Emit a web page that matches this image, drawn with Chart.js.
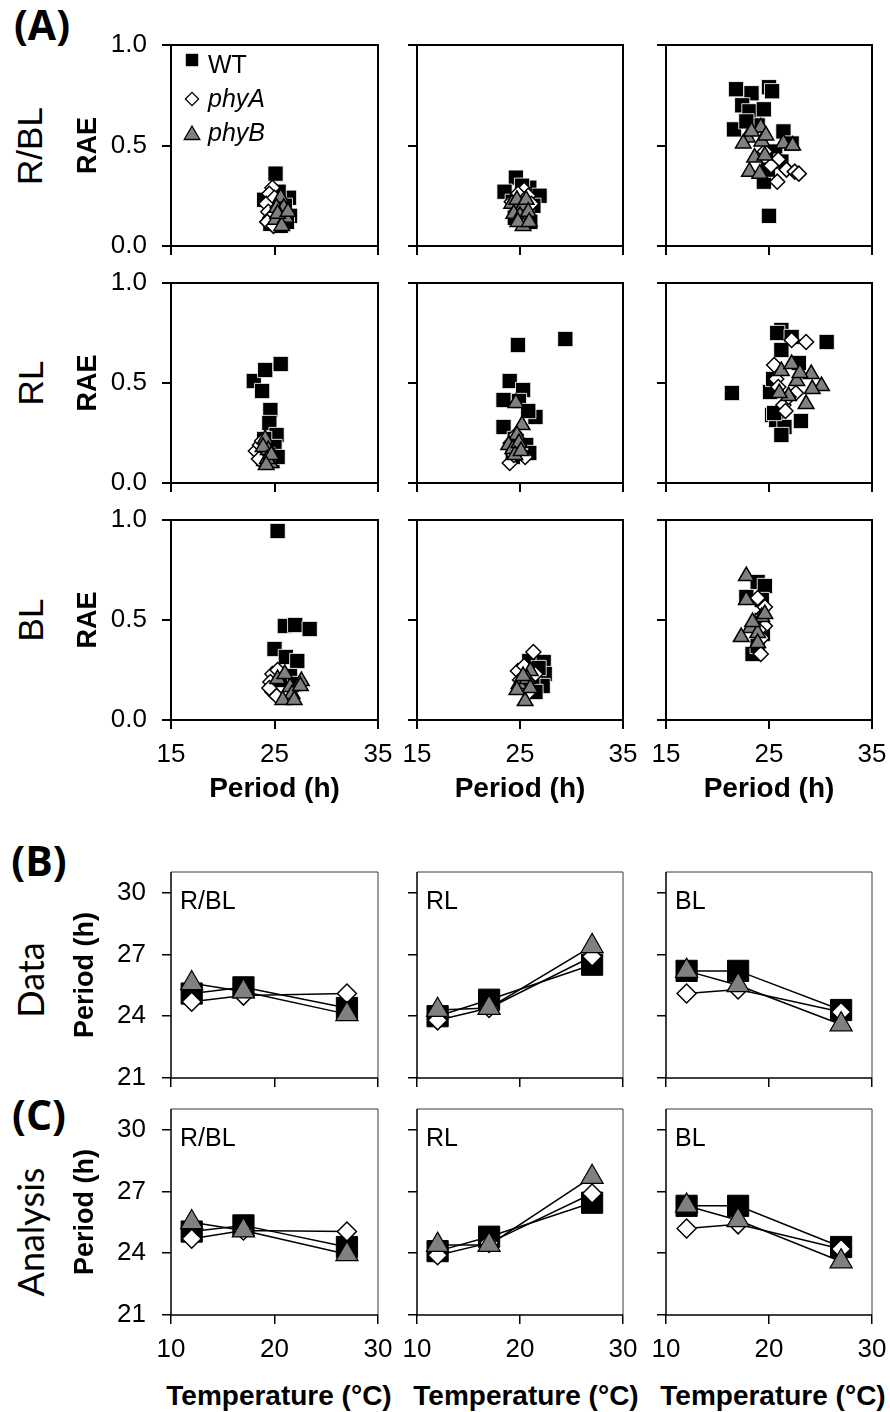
<!DOCTYPE html>
<html>
<head>
<meta charset="utf-8">
<script src="https://cdn.jsdelivr.net/npm/chart.js@4.4.0/dist/chart.umd.min.js"></script>
<style>
  html, body { margin: 0; padding: 0; background: #fff; }
  #fig { position: relative; width: 890px; height: 1412px; overflow: hidden; background: #fff; }
  .lbl { position: absolute; white-space: nowrap; line-height: 1; color: #000; transform: translate(-50%, -50%); }
  .rot { transform: translate(-50%, -50%) rotate(-90deg); }
  .letter { font-family: 'Open Sans', Lato, sans-serif; font-weight: 700; font-size: 41px; }
  .rowname { font-family: 'Liberation Sans', Arial, sans-serif; font-size: 35px; }
  .block { font-family: Lato, 'Open Sans', sans-serif; font-size: 36px; }
  .xtitle { font-family: 'Liberation Sans', Arial, sans-serif; font-size: 28px; font-weight: 700; }
</style>
</head>
<body>
<div id="fig">
  <div class="lbl letter" style="left:42px;top:24px">(A)</div>
  <div class="lbl letter" style="left:39px;top:860px">(B)</div>
  <div class="lbl letter" style="left:39px;top:1114px">(C)</div>

  <div class="lbl rot rowname" style="left:29px;top:146px">R/BL</div>
  <div class="lbl rot rowname" style="left:30px;top:383px">RL</div>
  <div class="lbl rot rowname" style="left:30px;top:620px">BL</div>

  <div class="lbl rot block" style="left:30px;top:980px">Data</div>
  <div class="lbl rot block" style="left:30px;top:1232px">Analysis</div>

  <div class="lbl xtitle" style="left:279px;top:1396px">Temperature (°C)</div>
  <div class="lbl xtitle" style="left:526px;top:1396px">Temperature (°C)</div>
  <div class="lbl xtitle" style="left:773px;top:1396px">Temperature (°C)</div>
</div>

<script>
// ---------- series and tick labels ----------
const seriesNames = ['WT', 'phyA', 'phyB'];
const lightNames = ['R/BL', 'RL', 'BL'];

const raeTicks = [0, 0.5, 1.0];
const periodTicks = [15, 25, 35];
const tempTicks = [10, 20, 30];
const periodTicksBC = [21, 24, 27, 30];

// (A) period vs RAE, [period (h), RAE] per seedling
// R/BL row
const rblWT1 = [[25.1,0.36],[24.0,0.23],[26.4,0.24],[26.0,0.20],[25.4,0.27],[24.7,0.17],[25.9,0.14],[26.5,0.15],[24.6,0.11],[25.6,0.10],[26.2,0.12],[24.9,0.22]];
const rblA1  = [[24.8,0.29],[24.5,0.26],[24.2,0.21],[24.4,0.17],[24.6,0.14],[24.3,0.12],[25.0,0.24],[25.3,0.19],[24.9,0.10]];
const rblB1  = [[25.6,0.24],[25.2,0.19],[25.9,0.19],[25.5,0.15],[25.1,0.13],[26.1,0.14],[25.7,0.10],[25.3,0.16],[26.3,0.17]];

const rblWT2 = [[24.6,0.34],[23.5,0.27],[25.9,0.29],[26.9,0.25],[25.2,0.30],[24.3,0.22],[26.3,0.20],[25.6,0.16],[24.5,0.14],[26.0,0.12],[25.0,0.18]];
const rblA2  = [[25.4,0.28],[24.8,0.26],[24.2,0.22],[25.8,0.25],[25.1,0.20],[24.6,0.17],[25.5,0.15],[26.1,0.21]];
const rblB2  = [[24.2,0.21],[24.7,0.23],[25.3,0.20],[25.6,0.23],[24.4,0.16],[25.0,0.15],[25.8,0.17],[25.3,0.10],[24.8,0.12],[25.9,0.12]];

const rblWT3 = [[21.8,0.78],[23.3,0.76],[25.0,0.79],[25.3,0.77],[22.4,0.70],[23.1,0.67],[24.5,0.68],[21.6,0.58],[26.4,0.57],[27.2,0.51],[24.5,0.32],[25.0,0.15],[23.9,0.60],[24.9,0.38],[22.8,0.62],[25.6,0.47],[26.2,0.42]];
const rblA3  = [[25.9,0.43],[26.7,0.38],[25.8,0.32],[27.5,0.37],[27.9,0.36],[25.2,0.40],[24.6,0.47]];
const rblB3  = [[24.2,0.59],[22.9,0.54],[22.5,0.51],[24.3,0.52],[26.4,0.51],[27.3,0.50],[23.6,0.44],[23.1,0.37],[24.1,0.36],[24.6,0.45],[23.3,0.57],[24.7,0.55]];

// RL row
const rlWT1 = [[23.0,0.51],[24.1,0.565],[25.6,0.595],[23.8,0.46],[24.6,0.365],[24.5,0.30],[25.2,0.24],[24.0,0.22],[25.0,0.18],[24.3,0.14],[24.8,0.11],[23.9,0.12],[25.3,0.13]];
const rlA1  = [[23.2,0.16],[23.6,0.19],[24.0,0.13],[23.8,0.21],[24.3,0.17],[24.5,0.11],[23.5,0.12]];
const rlB1  = [[24.1,0.22],[24.4,0.165],[24.6,0.10],[23.9,0.18],[24.3,0.12],[24.7,0.14],[24.2,0.09]];

const rlWT2 = [[24.8,0.69],[29.4,0.72],[24.0,0.51],[25.3,0.465],[23.4,0.415],[24.9,0.41],[26.5,0.33],[25.8,0.36],[23.4,0.28],[25.6,0.19],[24.5,0.22],[25.9,0.15],[24.9,0.15],[24.3,0.13]];
const rlA2  = [[24.0,0.10],[24.4,0.14],[24.8,0.19],[25.2,0.17],[24.1,0.20],[25.5,0.13],[24.6,0.24]];
const rlB2  = [[24.6,0.40],[25.2,0.29],[24.7,0.24],[23.9,0.19],[24.3,0.17],[24.9,0.20],[24.5,0.14],[25.1,0.16]];

const rlWT3 = [[21.4,0.45],[30.6,0.705],[26.2,0.765],[25.8,0.75],[27.2,0.73],[26.2,0.665],[27.9,0.60],[25.1,0.455],[25.3,0.34],[25.7,0.315],[28.1,0.31],[26.5,0.28],[26.2,0.24],[25.5,0.35],[25.4,0.52]];
const rlA3  = [[27.2,0.715],[28.6,0.705],[25.5,0.59],[25.7,0.52],[26.4,0.39],[27.6,0.45],[26.9,0.43],[25.9,0.48],[26.6,0.36]];
const rlB3  = [[26.2,0.56],[27.2,0.595],[29.1,0.545],[30.1,0.485],[29.2,0.47],[26.9,0.435],[28.6,0.395],[26.0,0.45],[27.7,0.51],[28.0,0.55]];

// BL row
const blWT1 = [[25.3,0.945],[26.0,0.47],[27.0,0.475],[28.4,0.455],[25.0,0.355],[26.1,0.315],[27.2,0.295],[26.5,0.22],[25.6,0.20],[27.0,0.18]];
const blA1  = [[24.8,0.23],[24.6,0.19],[24.8,0.14],[25.2,0.12],[25.3,0.25],[24.5,0.16]];
const blB1  = [[25.3,0.205],[26.5,0.165],[27.6,0.195],[26.7,0.13],[25.8,0.10],[26.9,0.10],[27.5,0.17],[26.0,0.23]];

const blWT2 = [[25.9,0.295],[27.3,0.29],[27.4,0.23],[27.2,0.17],[26.2,0.18],[26.8,0.26],[26.5,0.14]];
const blA2  = [[26.3,0.34],[24.8,0.245],[25.0,0.20],[26.5,0.23],[25.9,0.14],[25.4,0.27]];
const blB2  = [[26.0,0.245],[24.9,0.18],[25.7,0.205],[25.5,0.095],[26.0,0.16],[25.3,0.22],[24.7,0.15]];

const blWT3 = [[23.9,0.69],[24.6,0.67],[22.8,0.615],[24.3,0.60],[23.4,0.33],[24.3,0.50],[24.4,0.43],[23.9,0.37]];
const blA3  = [[23.9,0.61],[24.6,0.565],[24.3,0.52],[24.6,0.47],[24.3,0.41],[24.2,0.33],[24.0,0.45]];
const blB3  = [[22.8,0.72],[22.8,0.60],[24.3,0.515],[23.2,0.46],[22.3,0.415],[23.9,0.435],[23.9,0.385],[24.6,0.53],[23.4,0.49]];

// (B) measured period (h) at each temperature
const temperatures = [12, 17, 27];
const dataRblWT = [25.1, 25.4, 24.4];
const dataRblA  = [24.7, 25.0, 25.1];
const dataRblB  = [25.6, 25.2, 24.1];
const dataRlWT  = [24.0, 24.8, 26.5];
const dataRlA   = [23.8, 24.4, 26.9];
const dataRlB   = [24.3, 24.4, 27.4];
const dataBlWT  = [26.2, 26.2, 24.3];
const dataBlA   = [25.1, 25.3, 24.2];
const dataBlB   = [26.2, 25.5, 23.6];

// (C) period (h) from the analysis
const fitRblWT = [25.05, 25.35, 24.3];
const fitRblA  = [24.7, 25.1, 25.05];
const fitRblB  = [25.5, 25.1, 23.95];
const fitRlWT  = [24.1, 24.8, 26.45];
const fitRlA   = [23.9, 24.5, 26.9];
const fitRlB   = [24.4, 24.4, 27.7];
const fitBlWT  = [26.3, 26.3, 24.3];
const fitBlA   = [25.2, 25.4, 24.2];
const fitBlB   = [26.3, 25.6, 23.6];

// ---------- layout ----------
const SANS = "'Liberation Sans', Arial, Helvetica, sans-serif";
const fig = document.getElementById('fig');
const colLefts = [171, 417, 666];
const colWidths = [207, 206, 206];
const rowTopsA = [45, 283, 520];
const rowHeightsA = [201, 200, 200];
// room around each plot area, large enough for the half-height of edge tick labels
const PAD_TOP = 36, PAD_RIGHT = 32, Y_AXIS_INNER = 32, X_AXIS_BARE = 36;

Chart.defaults.font.family = SANS;
Chart.defaults.color = '#000';

// box around each plot area
const framePlugin = {
  id: 'frame',
  beforeDatasetsDraw(chart, args, opts) {
    const { ctx, chartArea: { left, top, right, bottom } } = chart;
    ctx.save();
    if (opts.mode === 'box') {
      ctx.strokeStyle = '#000';
      ctx.lineWidth = 2;
      ctx.strokeRect(left, top, right - left, bottom - top);
    } else {
      ctx.strokeStyle = '#3a3a3a';
      ctx.lineWidth = 1;
      ctx.beginPath();
      ctx.moveTo(left, top); ctx.lineTo(right, top); ctx.lineTo(right, bottom);
      ctx.stroke();
      ctx.strokeStyle = '#000';
      ctx.lineWidth = 1.5;
      ctx.beginPath();
      ctx.moveTo(left, top); ctx.lineTo(left, bottom); ctx.lineTo(right, bottom);
      ctx.stroke();
    }
    ctx.restore();
  }
};

// light condition written in the top-left corner of panels B and C
const cornerLabelPlugin = {
  id: 'cornerLabel',
  afterDraw(chart, args, opts) {
    if (!opts.text) return;
    const { ctx, chartArea: a } = chart;
    ctx.save();
    ctx.font = `25px ${SANS}`;
    ctx.fillStyle = '#000';
    ctx.textAlign = 'left';
    ctx.textBaseline = 'alphabetic';
    ctx.fillText(opts.text, a.left + 9, a.top + 37);
    ctx.restore();
  }
};

function markerPath(ctx, style, x, y, r) {
  ctx.beginPath();
  if (style === 'rect') {
    const s = Math.SQRT1_2 * r;
    ctx.rect(x - s, y - s, 2 * s, 2 * s);
  } else if (style === 'rectRot') {
    ctx.moveTo(x - r, y); ctx.lineTo(x, y - r); ctx.lineTo(x + r, y); ctx.lineTo(x, y + r);
    ctx.closePath();
  } else {
    ctx.moveTo(x, y - r);
    ctx.lineTo(x + 0.866 * r, y + 0.5 * r);
    ctx.lineTo(x - 0.866 * r, y + 0.5 * r);
    ctx.closePath();
  }
}

// series key inside the first scatter panel
const keyPlugin = {
  id: 'seriesKey',
  afterDatasetsDraw(chart) {
    const { ctx, chartArea: a } = chart;
    const markY = [15, 54, 90];
    const textY = [21, 55, 89];
    const sizes = [8.8, 6.6, 9];
    ctx.save();
    chart.data.datasets.forEach((ds, i) => {
      markerPath(ctx, ds.pointStyle, a.left + 21, a.top + markY[i], sizes[i]);
      ctx.fillStyle = ds.pointBackgroundColor;
      ctx.fill();
      if (i > 0) {
        ctx.strokeStyle = '#000';
        ctx.lineWidth = 1.3;
        ctx.stroke();
      }
      ctx.fillStyle = '#000';
      ctx.font = `${i === 0 ? '' : 'italic '}25px ${SANS}`;
      ctx.textAlign = 'left';
      ctx.textBaseline = 'middle';
      ctx.fillText(ds.label, a.left + 37, a.top + textY[i]);
    });
    ctx.restore();
  }
};

function mountCanvas(left, top, width, height) {
  const wrap = document.createElement('div');
  wrap.style.cssText = `position:absolute;left:${left}px;top:${top}px;width:${width}px;height:${height}px;`;
  const cv = document.createElement('canvas');
  cv.width = width;
  cv.height = height;
  cv.style.cssText = `width:${width}px;height:${height}px;display:block;`;
  wrap.appendChild(cv);
  fig.appendChild(wrap);
  return cv;
}

function axis({ min, max, ticks, showLabels, fmt, padding, lineWidth, fit, title }) {
  return {
    type: 'linear',
    min, max,
    afterBuildTicks: s => { s.ticks = ticks.map(v => ({ value: v })); },
    ticks: {
      display: showLabels,
      font: { family: SANS, size: 26 },
      color: '#000',
      padding,
      autoSkip: false,
      maxRotation: 0,
      callback: fmt || (v => String(v))
    },
    grid: { display: true, drawOnChartArea: false, drawTicks: true, tickLength: 9, color: '#000', lineWidth },
    border: { display: false },
    title: title || { display: false },
    afterFit: fit
  };
}

const toXY = arr => arr.map(([x, y]) => ({ x, y }));
const onTemps = vals => temperatures.map((t, i) => ({ x: t, y: vals[i] }));

// ---------- (A) scatter panels ----------
function scatterPanel(row, col, [wt, pa, pb]) {
  const yw = col === 0 ? 131 : Y_AXIS_INNER, pt = PAD_TOP, pr = PAD_RIGHT;
  const xh = row === 2 ? 95 : X_AXIS_BARE;
  const w = colWidths[col], h = rowHeightsA[row];
  const cv = mountCanvas(colLefts[col] - yw, rowTopsA[row] - pt, yw + w + pr, pt + h + xh);
  const plugins = [framePlugin];
  if (row === 0 && col === 0) plugins.push(keyPlugin);
  return new Chart(cv, {
    type: 'scatter',
    data: {
      datasets: [
        { label: seriesNames[0], data: toXY(wt), order: 3, pointStyle: 'rect', pointRadius: 10.8,
          pointBackgroundColor: '#000', pointBorderColor: 'rgba(255,255,255,0.85)', pointBorderWidth: 1 },
        { label: seriesNames[1], data: toXY(pa), order: 2, pointStyle: 'rectRot', pointRadius: 7.5,
          pointBackgroundColor: '#fff', pointBorderColor: '#000', pointBorderWidth: 1.5 },
        { label: seriesNames[2], data: toXY(pb), order: 1, pointStyle: 'triangle', pointRadius: 9,
          pointBackgroundColor: '#808080', pointBorderColor: '#000', pointBorderWidth: 1.5 }
      ]
    },
    options: {
      responsive: false, animation: false, events: [],
      layout: { padding: { top: pt, right: pr, left: 0, bottom: 0 } },
      plugins: { legend: { display: false }, tooltip: { enabled: false }, frame: { mode: 'box' } },
      scales: {
        x: axis({
          min: 15, max: 35, ticks: periodTicks, showLabels: row === 2, padding: 10, lineWidth: 2,
          fit: s => { s.height = xh; },
          title: { display: row === 2, text: 'Period (h)', color: '#000',
                   font: { family: SANS, size: 28, weight: 'bold' }, padding: { top: 0, bottom: 9 } }
        }),
        y: axis({
          min: 0, max: 1, ticks: raeTicks, showLabels: col === 0, fmt: v => v.toFixed(1), padding: 15, lineWidth: 2,
          fit: s => { s.width = yw; },
          title: { display: col === 0, text: 'RAE', color: '#000',
                   font: { family: SANS, size: 27, weight: 'bold' }, padding: { top: 32, bottom: 0 } }
        })
      }
    },
    plugins
  });
}

const scatterGrid = [
  [[rblWT1, rblA1, rblB1], [rblWT2, rblA2, rblB2], [rblWT3, rblA3, rblB3]],
  [[rlWT1, rlA1, rlB1], [rlWT2, rlA2, rlB2], [rlWT3, rlA3, rlB3]],
  [[blWT1, blA1, blB1], [blWT2, blA2, blB2], [blWT3, blA3, blB3]]
];
scatterGrid.forEach((cols, r) => cols.forEach((series, c) => scatterPanel(r, c, series)));

// ---------- (B) and (C) period vs temperature ----------
function linePanel(block, col, [wt, pa, pb]) {
  const top = block === 'B' ? 872 : 1109;
  const yw = col === 0 ? 131 : Y_AXIS_INNER, pt = PAD_TOP, pr = PAD_RIGHT;
  const xh = block === 'C' ? 70 : X_AXIS_BARE;
  const w = colWidths[col], h = 206;
  const cv = mountCanvas(colLefts[col] - yw, top - pt, yw + w + pr, pt + h + xh);
  const line = { showLine: true, borderColor: '#000', borderWidth: 1.5 };
  return new Chart(cv, {
    type: 'scatter',
    data: {
      datasets: [
        { ...line, label: seriesNames[0], data: onTemps(wt), order: 3, pointStyle: 'rect', pointRadius: 15,
          pointBackgroundColor: '#000', pointBorderColor: '#000', pointBorderWidth: 1 },
        { ...line, label: seriesNames[1], data: onTemps(pa), order: 2, pointStyle: 'rectRot', pointRadius: 9.5,
          pointBackgroundColor: '#fff', pointBorderColor: '#000', pointBorderWidth: 1.5 },
        { ...line, label: seriesNames[2], data: onTemps(pb), order: 1, pointStyle: 'triangle', pointRadius: 12.8,
          pointBackgroundColor: '#808080', pointBorderColor: '#000', pointBorderWidth: 1.2 }
      ]
    },
    options: {
      responsive: false, animation: false, events: [],
      layout: { padding: { top: pt, right: pr, left: 0, bottom: 0 } },
      plugins: {
        legend: { display: false }, tooltip: { enabled: false },
        frame: { mode: 'axes' }, cornerLabel: { text: lightNames[col] }
      },
      scales: {
        x: axis({
          min: 10, max: 30, ticks: tempTicks, showLabels: block === 'C', padding: 10, lineWidth: 1.5,
          fit: s => { s.height = xh; }
        }),
        y: axis({
          min: 21, max: 31, ticks: periodTicksBC, showLabels: col === 0, padding: 16, lineWidth: 1.5,
          fit: s => { s.width = yw; },
          title: { display: col === 0, text: 'Period (h)', color: '#000',
                   font: { family: SANS, size: 27, weight: 'bold' }, padding: { top: 29, bottom: 0 } }
        })
      }
    },
    plugins: [framePlugin, cornerLabelPlugin]
  });
}

[[dataRblWT, dataRblA, dataRblB], [dataRlWT, dataRlA, dataRlB], [dataBlWT, dataBlA, dataBlB]]
  .forEach((series, c) => linePanel('B', c, series));
[[fitRblWT, fitRblA, fitRblB], [fitRlWT, fitRlA, fitRlB], [fitBlWT, fitBlA, fitBlB]]
  .forEach((series, c) => linePanel('C', c, series));
</script>
</body>
</html>
